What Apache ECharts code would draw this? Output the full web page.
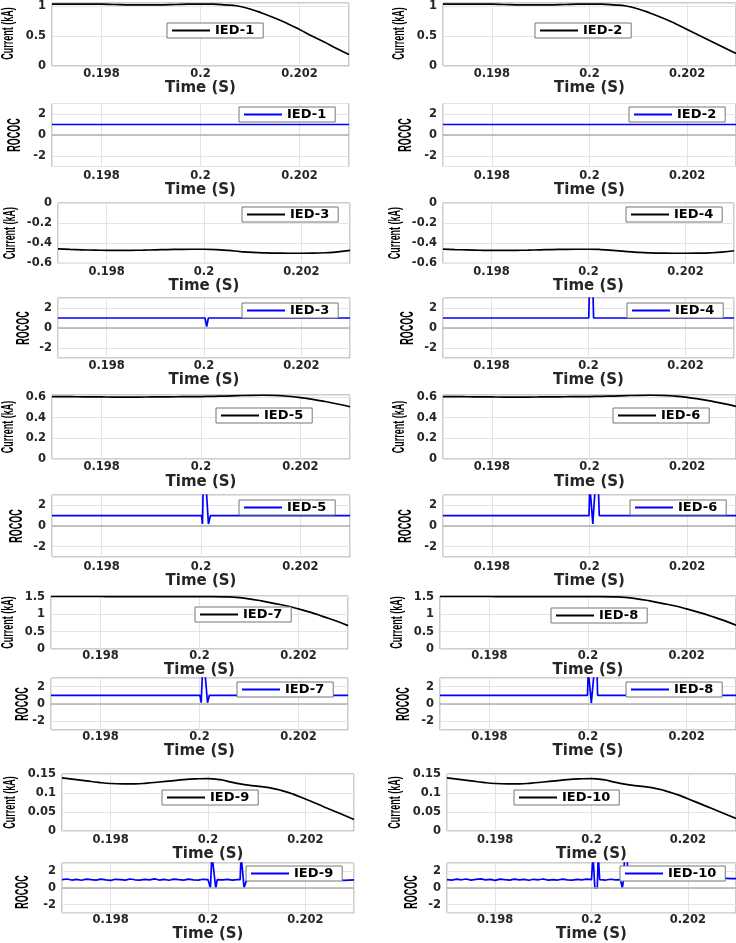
<!DOCTYPE html>
<html>
<head>
<meta charset="utf-8">
<title>IED current and ROCOC</title>
<script src="https://cdn.jsdelivr.net/npm/echarts@6/dist/echarts.min.js"></script>
<style>
  html, body { margin: 0; padding: 0; background: #fff; overflow: hidden; }
  #chart { width: 736px; height: 943px; }
</style>
</head>
<body>
<div id="chart"></div>
<script>
// time samples (s) of the current traces
const tCur = [0.197, 0.19725, 0.1975, 0.19775, 0.198, 0.19825, 0.1985, 0.19875, 0.199, 0.19925,
  0.1995, 0.19975, 0.2, 0.20025, 0.2005, 0.20075, 0.201, 0.20125, 0.2015, 0.20175,
  0.202, 0.20225, 0.2025, 0.20275, 0.203];

// current (kA)
const cur1 = [1.03, 1.03, 1.03, 1.03, 1.03, 1.025, 1.02, 1.02, 1.02, 1.02, 1.025, 1.03, 1.03, 1.03, 1.02, 1.0, 0.95, 0.88, 0.8, 0.71, 0.61, 0.5, 0.4, 0.29, 0.19];
const cur2 = [1.03, 1.03, 1.03, 1.03, 1.03, 1.025, 1.02, 1.02, 1.02, 1.02, 1.025, 1.03, 1.03, 1.03, 1.02, 1.0, 0.95, 0.88, 0.8, 0.71, 0.61, 0.51, 0.41, 0.31, 0.21];
const cur3 = [-0.457, -0.462, -0.466, -0.469, -0.471, -0.472, -0.471, -0.469, -0.466, -0.463, -0.461, -0.46, -0.46, -0.463, -0.472, -0.483, -0.492, -0.497, -0.499, -0.5, -0.5, -0.499, -0.495, -0.487, -0.472];
const cur4 = [-0.458, -0.463, -0.467, -0.47, -0.472, -0.472, -0.471, -0.469, -0.466, -0.463, -0.461, -0.46, -0.46, -0.463, -0.471, -0.482, -0.491, -0.497, -0.499, -0.5, -0.5, -0.499, -0.496, -0.489, -0.475];
const cur5 = [0.605, 0.604, 0.603, 0.602, 0.601, 0.6, 0.6, 0.6, 0.601, 0.602, 0.603, 0.604, 0.605, 0.607, 0.61, 0.614, 0.617, 0.618, 0.616, 0.608, 0.595, 0.578, 0.557, 0.533, 0.506];
const cur6 = [0.605, 0.604, 0.603, 0.602, 0.601, 0.6, 0.6, 0.6, 0.601, 0.602, 0.603, 0.604, 0.605, 0.607, 0.61, 0.614, 0.617, 0.618, 0.616, 0.609, 0.597, 0.58, 0.56, 0.537, 0.51];
const cur7 = [1.505, 1.505, 1.505, 1.505, 1.505, 1.503, 1.502, 1.501, 1.5, 1.5, 1.5, 1.5, 1.5, 1.5, 1.495, 1.48, 1.44, 1.38, 1.31, 1.24, 1.15, 1.05, 0.93, 0.81, 0.67];
const cur8 = [1.505, 1.505, 1.505, 1.505, 1.505, 1.503, 1.502, 1.501, 1.5, 1.5, 1.5, 1.5, 1.5, 1.5, 1.495, 1.48, 1.44, 1.38, 1.31, 1.24, 1.15, 1.05, 0.94, 0.82, 0.68];
const cur9 = [0.14, 0.136, 0.132, 0.128, 0.125, 0.124, 0.124, 0.126, 0.129, 0.132, 0.135, 0.137, 0.138, 0.135, 0.128, 0.122, 0.118, 0.114, 0.107, 0.097, 0.084, 0.071, 0.057, 0.044, 0.03];
const cur10 = [0.14, 0.136, 0.132, 0.128, 0.125, 0.124, 0.124, 0.126, 0.129, 0.132, 0.135, 0.137, 0.138, 0.135, 0.128, 0.122, 0.118, 0.114, 0.107, 0.097, 0.085, 0.072, 0.059, 0.046, 0.033];

// ROCOC as [time, value]
const roc1 = [[0.197, 1], [0.203, 1]];
const roc2 = [[0.197, 1], [0.203, 1]];
const roc3 = [[0.197, 1], [0.20002, 1], [0.200055, 0.15], [0.20009, 1], [0.203, 1]];
const roc4 = [[0.197, 1], [0.200005, 1], [0.20002, 4], [0.20009, 4], [0.200105, 1], [0.203, 1]];
const roc5 = [[0.197, 1], [0.20001, 1], [0.20003, 0.2], [0.200045, 4], [0.2001, 4], [0.20015, 0.2], [0.20019, 1], [0.203, 1]];
const roc6 = [[0.197, 1], [0.19999, 1], [0.200005, 4], [0.20003, 4], [0.200068, 0.2], [0.20012, 4], [0.20018, 4], [0.2002, 1], [0.203, 1]];
const roc7 = [[0.197, 1], [0.20001, 1], [0.200034, 0.15], [0.200062, 4], [0.200105, 4], [0.200162, 0.15], [0.2002, 1], [0.203, 1]];
const roc8 = [[0.197, 1], [0.19999, 1], [0.200005, 4], [0.200025, 4], [0.200067, 0.1], [0.20013, 4], [0.20018, 4], [0.200195, 1], [0.203, 1]];
const roc9 = [
  [0.197, 1.0], [0.1971, 1.08], [0.1972, 0.96], [0.1973, 1.04], [0.1974, 0.93], [0.1975, 1.07], [0.1976, 1.0], [0.1977, 0.95],
  [0.1978, 1.06], [0.1979, 0.98], [0.198, 0.92], [0.1981, 1.05], [0.1982, 1.02], [0.1983, 0.94], [0.1984, 1.08], [0.1985, 0.99],
  [0.1986, 0.95], [0.1987, 1.04], [0.1988, 0.97], [0.1989, 1.09], [0.199, 0.96], [0.1991, 1.03], [0.1992, 0.93], [0.1993, 1.06],
  [0.1994, 1.0], [0.1995, 0.95], [0.1996, 1.07], [0.1997, 0.98], [0.1998, 0.94], [0.1999, 1.05], [0.2, 1.0],
  [0.20003, 1.0], [0.20005, 0.05], [0.20008, 4], [0.20012, 4], [0.20016, 0.0], [0.20019, 1.0],
  [0.2002, 1.05], [0.2003, 0.97], [0.2004, 1.04], [0.2005, 0.95], [0.2006, 1.02],
  [0.20066, 1.0], [0.20068, 4], [0.20071, 4], [0.20074, 0.05], [0.20077, 0.05], [0.2008, 1.05],
  [0.2009, 1.1], [0.201, 1.12], [0.2011, 1.09], [0.2012, 1.11], [0.2013, 1.13], [0.2014, 1.1], [0.2015, 1.09], [0.2016, 1.08],
  [0.2017, 1.1], [0.2018, 1.07], [0.2019, 1.08], [0.202, 1.06], [0.2021, 1.07], [0.2022, 1.05], [0.2023, 1.06], [0.2024, 1.03],
  [0.2025, 1.02], [0.2026, 0.99], [0.2027, 0.96], [0.2028, 0.93], [0.2029, 0.95], [0.203, 0.97]
];
const roc10 = [
  [0.197, 1.02], [0.1971, 0.95], [0.1972, 1.06], [0.1973, 0.99], [0.1974, 1.08], [0.1975, 0.94], [0.1976, 1.03], [0.1977, 1.1],
  [0.1978, 0.97], [0.1979, 1.04], [0.198, 0.92], [0.1981, 1.06], [0.1982, 1.0], [0.1983, 0.95], [0.1984, 1.07], [0.1985, 0.98],
  [0.1986, 1.03], [0.1987, 0.93], [0.1988, 1.05], [0.1989, 0.99], [0.199, 1.08], [0.1991, 0.95], [0.1992, 1.02], [0.1993, 0.96],
  [0.1994, 1.06], [0.1995, 0.98], [0.1996, 0.94], [0.1997, 1.04], [0.1998, 0.99], [0.1999, 1.06], [0.2, 1.0],
  [0.20001, 1.0], [0.20003, 4], [0.200055, 4], [0.20007, 0.0], [0.20012, 0.0], [0.20014, 4], [0.200155, 4], [0.20017, 1.0],
  [0.2002, 1.03], [0.2003, 0.96], [0.2004, 1.05], [0.2005, 0.97], [0.2006, 1.02],
  [0.20062, 1.0], [0.20064, 0.0], [0.200665, 1.0], [0.20069, 4], [0.20074, 4], [0.200755, 1.0],
  [0.2008, 1.05], [0.2009, 1.06], [0.201, 1.05], [0.2011, 1.04], [0.2012, 1.05], [0.2013, 1.03], [0.2014, 1.04], [0.2015, 1.03],
  [0.2016, 1.04], [0.2017, 1.05], [0.2018, 1.04], [0.2019, 1.05], [0.202, 1.06], [0.2021, 1.05], [0.2022, 1.07], [0.2023, 1.08],
  [0.2024, 1.1], [0.2025, 1.12], [0.2026, 1.15], [0.2027, 1.17], [0.2028, 1.16], [0.2029, 1.14], [0.203, 1.12]
];

const iedNames = ['IED-1', 'IED-2', 'IED-3', 'IED-4', 'IED-5', 'IED-6', 'IED-7', 'IED-8', 'IED-9', 'IED-10'];
const currents = [cur1, cur2, cur3, cur4, cur5, cur6, cur7, cur8, cur9, cur10];
const rococs = [roc1, roc2, roc3, roc4, roc5, roc6, roc7, roc8, roc9, roc10];
const yTitles = ['Current (kA)', 'ROCOC'];

// axis ranges
const timeRange = [0.197, 0.203];
const timeStep = 0.002;
// current y axis per row pair: [min, max, step, max is a tick]
const curRange = [[0, 1.05, 0.5, false], [-0.6, 0, 0.2, true], [0, 0.62, 0.2, false], [0, 1.52, 0.5, false], [0, 0.15, 0.05, true]];
const rocRange = [-3, 3];
const rocStep = 2;

// layout (px)
const rowBox = [[1, 66], [103.5, 166.5], [203, 263.3], [298, 358], [395, 459], [495, 557], [596, 649], [678, 730], [774, 831], [863, 921]];
const colBox = [
  [[52, 349], [443, 738]],
  [[58, 350], [443, 734]],
  [[52, 350], [443, 738]],
  [[51, 348], [440, 737]],
  [[62, 354], [447, 739]]
];
const tickOff = [8, 9.3, 8.4, 8, 8.3, 9.7, 6.7, 7.2, 8.6, 7];
const nameOff = [20, 21.5, 19.7, 19.7, 19.8, 20.2, 16.3, 17, 18.8, 17.3];
// centre x of the y axis titles: [pair][col][current, rococ]
const yNameX = [
  [[8.3, 15.5], [399.8, 406]],
  [[10.8, 23.7], [395.2, 407.7]],
  [[8.3, 17], [399.8, 406]],
  [[8.3, 23.3], [397.3, 404.3]],
  [[10.8, 23.3], [395.2, 412.3]]
];
// y title font size and squeeze: [current, rococ]
const yTitleSize = [16, 18];
const yTitleScale = [0.56, 0.5];
// legend box corner: [pair][col][current, rococ]
const legendPos = [
  [[[167, 23], [239, 107]], [[535, 23], [629, 107]]],
  [[[242, 207], [242, 303]], [[626, 207], [627, 303]]],
  [[[216, 408], [239, 500]], [[613, 408], [630, 500]]],
  [[[195, 607], [237, 682]], [[551, 608], [626, 682]]],
  [[[162, 790], [246, 866]], [[514, 790], [620, 866]]]
];

const FONT = "'DejaVu Sans', Verdana, sans-serif";
const BLUE = '#0000ff';
const BLACK = '#000000';

const grids = [];
const xAxes = [];
const yAxes = [];
const series = [];
const legends = [];
const titles = [];

for (let k = 0; k < 10; k++) {
  const pair = Math.floor(k / 2);
  const col = k % 2;
  for (let sub = 0; sub < 2; sub++) {
    const row = pair * 2 + sub;
    const idx = grids.length;
    const [l, r] = colBox[pair][col];
    const [t, b] = rowBox[row];
    const color = sub ? BLUE : BLACK;

    grids.push({
      left: l, top: t, width: r - l, height: b - t,
      show: true, backgroundColor: '#fff', borderColor: '#9a9a9a', borderWidth: 1
    });

    xAxes.push({
      type: 'value', gridIndex: idx,
      min: timeRange[0], max: timeRange[1], minInterval: timeStep, maxInterval: timeStep,
      axisLine: { show: false }, axisTick: { show: false },
      axisLabel: {
        showMinLabel: false, showMaxLabel: false, margin: tickOff[row] - 5,
        fontFamily: FONT, fontWeight: 'bold', fontSize: 11.5, lineHeight: 10, color: '#262626'
      },
      splitLine: { lineStyle: { color: '#e4e4e4', width: 1 } },
      name: 'Time (S)', nameLocation: 'middle', nameGap: nameOff[row] - 6,
      nameTextStyle: { fontFamily: FONT, fontWeight: 'bold', fontSize: 15, lineHeight: 12, color: '#262626' }
    });

    const yBase = {
      type: 'value', gridIndex: idx,
      axisLine: { show: false }, axisTick: { show: false },
      splitLine: { lineStyle: { color: '#e4e4e4', width: 1 } }
    };
    const labelBase = { margin: 6, fontFamily: FONT, fontWeight: 'bold', fontSize: 11.5, color: '#262626' };
    if (sub) {
      yAxes.push(Object.assign(yBase, {
        min: rocRange[0], max: rocRange[1], minInterval: rocStep, maxInterval: rocStep,
        axisLabel: Object.assign({ showMinLabel: false, showMaxLabel: false }, labelBase)
      }));
    } else {
      const [mn, mx, step, maxTick] = curRange[pair];
      yAxes.push(Object.assign(yBase, {
        min: mn, max: mx, interval: step,
        axisLabel: Object.assign({ showMaxLabel: maxTick }, labelBase)
      }));
    }

    // y titles: squeezed along the text like the source figure
    titles.push({
      type: 'text', silent: true,
      x: yNameX[pair][col][sub], y: (t + b) / 2,
      rotation: Math.PI / 2, scaleX: yTitleScale[sub],
      style: {
        text: yTitles[sub], fill: '#000',
        font: 'bold ' + yTitleSize[sub] + "px 'Liberation Sans', Arial, sans-serif",
        align: 'center', verticalAlign: 'middle'
      }
    });

    const s = {
      type: 'line', name: iedNames[k], xAxisIndex: idx, yAxisIndex: idx,
      symbol: 'none', showSymbol: false, clip: true,
      lineStyle: { color: color, width: 1.7 }, itemStyle: { color: color },
      data: sub ? rococs[k] : tCur.map((tt, i) => [tt, currents[k][i]]),
      smooth: !sub
    };
    if (sub) {
      s.markLine = {
        silent: true, symbol: 'none', animation: false, label: { show: false },
        lineStyle: { color: '#b0b0b0', width: 1.5, type: 'solid' },
        data: [{ yAxis: 0 }]
      };
    }
    series.push(s);

    const [lx, ly] = legendPos[pair][col][sub];
    legends.push({
      left: lx, top: ly, orient: 'horizontal', selectedMode: false,
      icon: 'rect', itemWidth: 38, itemHeight: 2,
      padding: [1, 9, 1, 5], backgroundColor: '#fff', borderColor: '#777', borderWidth: 1,
      textStyle: { fontFamily: FONT, fontWeight: 'bold', fontSize: 13, lineHeight: 12, color: '#000' },
      data: [{ name: iedNames[k], itemStyle: { color: color }, lineStyle: { color: color } }]
    });
  }
}

const chart = echarts.init(document.getElementById('chart'));
chart.setOption({
  animation: false,
  backgroundColor: '#fff',
  grid: grids,
  xAxis: xAxes,
  yAxis: yAxes,
  legend: legends,
  graphic: titles,
  series: series
});
</script>
</body>
</html>
